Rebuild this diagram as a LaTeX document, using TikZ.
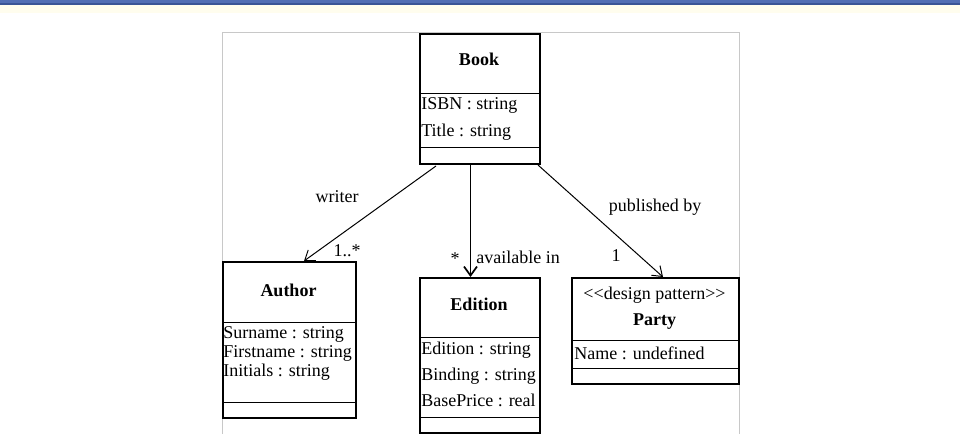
\documentclass[tikz,border=0pt]{standalone}
\usepackage{fontspec}
\setmainfont{Liberation Serif}
\usetikzlibrary{arrows.meta}
\newdimen\px \px=0.75pt
\definecolor{barblue}{RGB}{82,110,180}
\definecolor{bardark}{RGB}{58,84,150}
\definecolor{paleband}{RGB}{255,253,238}
\definecolor{framegray}{RGB}{200,200,200}
\tikzset{
  classbox/.style={draw, line width=1.4pt, inner sep=0pt, anchor=north west},
  divider/.style={line width=0.75pt},
  classname/.style={font=\fontsize{13.5}{16}\selectfont\bfseries, inner sep=0pt},
  attr/.style={font=\fontsize{13.5}{16}\selectfont, inner sep=0pt, anchor=west},
  rolelabel/.style={font=\fontsize{13.5}{16}\selectfont, inner sep=0pt},
  assoc/.style={line width=0.75pt, -{Straight Barb[length=6.75pt,width=9.75pt]}},
}
\begin{document}
\begin{tikzpicture}[x=0.75pt,y=0.75pt,yscale=-1,xscale=1]
        \useasboundingbox (0,0) rectangle (960,433);

        %Page band
        \fill[barblue] (0,0) rectangle (960,3.2);
        \fill[bardark] (0,3.2) rectangle (960,4.6);
        \fill[paleband] (0,4.6) rectangle (960,13);
        %Frame
        \draw[framegray, line width=0.75pt] (222,440) -- (222,32) -- (739,32) -- (739,440);

        %Class: Book
        \node[classbox, minimum width=120\px, minimum height=130\px] (book) at (419,33) {};
        \draw[divider] (419,93) -- (539,93);
        \draw[divider] (419,147) -- (539,147);
        \node[classname] (bookname) at (479,59) {Book};
        \node[attr] (bookisbn) at (421,105) {ISBN : string};
        \node[attr] (booktitle) at (421,132) {Title : string};

        %Class: Author
        \node[classbox, minimum width=133\px, minimum height=156\px] (author) at (222,261) {};
        \draw[divider] (222,322) -- (355,322);
        \draw[divider] (222,402) -- (355,402);
        \node[classname] (authorname) at (288.5,290) {Author};
        \node[attr] (authorsurname) at (223,334) {Surname : string};
        \node[attr] (authorfirst) at (223,353) {Firstname : string};
        \node[attr] (authorinit) at (223,372) {Initials : string};

        %Class: Edition
        \node[classbox, minimum width=120\px, minimum height=155\px] (edition) at (419,277) {};
        \draw[divider] (419,337) -- (539,337);
        \draw[divider] (419,417) -- (539,417);
        \node[classname] (editionname) at (479,304) {Edition};
        \node[attr] (editionedition) at (421,350) {Edition : string};
        \node[attr] (editionbinding) at (421,376) {Binding : string};
        \node[attr] (editionprice) at (421,400) {BasePrice : real};

        %Class: Party
        \node[classbox, minimum width=167\px, minimum height=106\px] (party) at (571,277) {};
        \draw[divider] (571,340) -- (738,340);
        \draw[divider] (571,368) -- (738,368);
        \node[rolelabel] (partystereo) at (654.5,295) {<{}<design pattern>{}>};
        \node[classname] (partyname) at (654.5,322) {Party};
        \node[attr] (partyattr) at (574,353) {Name : undefined};

        %Associations
        \coordinate (writerstart) at (436,166);
        \coordinate (writerend) at (304,261);
        \coordinate (availstart) at (470.5,165);
        \coordinate (availend) at (470.5,277);
        \coordinate (pubstart) at (538,165);
        \coordinate (pubend) at (663,277);
        \draw[assoc] (writerstart) -- (writerend);
        \draw[assoc, line width=1.3pt] (availstart) -- (availend);
        \draw[assoc] (pubstart) -- (pubend);

        % Text Node
        \node[rolelabel] (writerlabel) at (337,197) {writer};
        \node[rolelabel] (writermult) at (347,251) {1..*};
        \node[rolelabel] (availmult) at (455,259) {*};
        \node[rolelabel] (availlabel) at (518,257) {available in};
        \node[rolelabel] (publabel) at (655,207) {published by};
        \node[rolelabel] (pubmult) at (616,256) {1};
\end{tikzpicture}
\end{document}
